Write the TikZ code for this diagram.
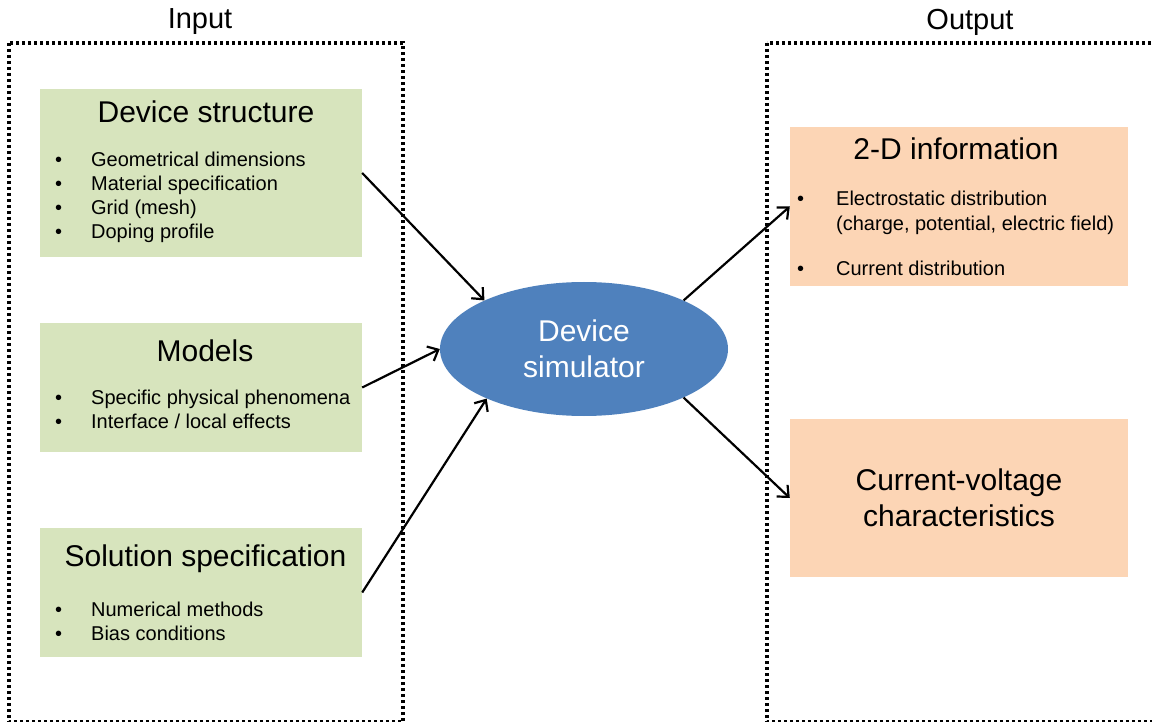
\documentclass[tikz,border=0pt]{standalone}
\usepackage{fontspec}
\setmainfont{Liberation Sans}
\usetikzlibrary{shapes.geometric,arrows.meta}

\definecolor{boxgreen}{RGB}{215,228,189}
\definecolor{boxorange}{RGB}{252,213,181}
\definecolor{simblue}{RGB}{79,129,189}

\newcommand{\bul}{\textbullet}

\begin{document}
\begin{tikzpicture}[x=1pt, y=-1pt,
  inbox/.style={fill=boxgreen, minimum width=322pt, inner sep=0pt},
  outbox/.style={fill=boxorange, minimum width=338pt, inner sep=0pt},
  frame/.style={line width=3.2pt, dash pattern=on 3pt off 3pt},
  title/.style={anchor=base, inner sep=0pt, font=\fontsize{30}{36}\selectfont},
  items/.style={anchor=base west, inner sep=0pt, font=\fontsize{20}{24}\selectfont},
  arr/.style={->, line width=2.2pt},
  >={Straight Barb[length=9pt,width=16pt]}]
\useasboundingbox (0,0) rectangle (1152,722);
\clip (0,0) rectangle (1152,722);

% input / output frames
\draw[frame] (9,43) rectangle (403,722);
\draw[frame] (767,43) rectangle (1165,722);
\node[font=\fontsize{29}{35}\selectfont] (inlab) at (200,22) {Input};
\node[font=\fontsize{29}{35}\selectfont] (outlab) at (970,22) {Output};

% input boxes
\node[inbox, minimum height=168pt] (struct) at (201,173) {};
\node[title] (structT) at (206,123) {Device structure};
\node[items] (structL) at (55,167) {\begin{tabular}[t]{@{}p{36pt}@{}l@{}}
  \bul & Geometrical dimensions\\
  \bul & Material specification\\
  \bul & Grid (mesh)\\
  \bul & Doping profile
\end{tabular}};

\node[inbox, minimum height=129pt] (models) at (201,387.5) {};
\node[title] (modelsT) at (205,361) {Models};
\node[items] (modelsL) at (55,404) {\begin{tabular}[t]{@{}p{36pt}@{}l@{}}
  \bul & Specific physical phenomena\\
  \bul & Interface / local effects
\end{tabular}};

\node[inbox, minimum height=129pt] (solution) at (201,592.5) {};
\node[title] (solutionT) at (205.5,566) {Solution specification};
\node[items] (solutionL) at (55,616) {\begin{tabular}[t]{@{}p{36pt}@{}l@{}}
  \bul & Numerical methods\\
  \bul & Bias conditions
\end{tabular}};

% simulator
\node[ellipse, fill=simblue, minimum width=288pt, minimum height=134pt,
  inner sep=0pt, text=white, align=center,
  font=\fontsize{30}{36}\selectfont] (sim) at (584,349) {Device\\simulator};

% output boxes
\node[outbox, minimum height=159pt] (info) at (959,206.5) {};
\node[title] (infoT) at (956,160) {2-D information};
\node[items, font=\fontsize{20}{25}\selectfont] (infoL) at (797,206) {\begin{tabular}[t]{@{}p{39pt}@{}l@{}}
  \bul & Electrostatic distribution\\
       & (charge, potential, electric field)\\[20pt]
  \bul & Current distribution
\end{tabular}};

\node[outbox, minimum height=158pt, align=center,
  font=\fontsize{30}{36}\selectfont] (iv) at (959,498) {Current-voltage\\characteristics};

% connectors
\draw[arr] (struct.east) -- (sim.154);
\draw[arr] (models.east) -- (sim.west);
\draw[arr] (solution.east) -- (sim.207);
\draw[arr] (sim.26) -- (info.west);
\draw[arr] (sim.334) -- (iv.west);
\end{tikzpicture}
\end{document}
